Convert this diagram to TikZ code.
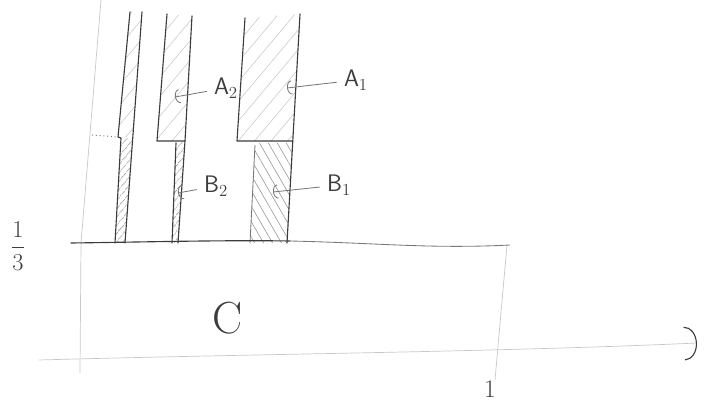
\documentclass[tikz,border=0pt]{standalone}
\usetikzlibrary{arrows.meta, patterns.meta}
\definecolor{sketchDark}{RGB}{60, 60, 60}
\definecolor{sketchMid}{RGB}{120, 120, 120}
\definecolor{sketchLight}{RGB}{200, 200, 200}
\tikzset{
  edgeline/.style={draw=sketchDark, line width=0.8pt, line cap=round, line join=round},
  axisline/.style={draw=sketchLight, line width=0.5pt, line cap=round},
  lighthatch/.style={pattern={Lines[angle=50, distance=9pt, line width=0.4pt]}, pattern color=sketchLight},
  densehatch/.style={pattern={Lines[angle=50, distance=4pt, line width=0.5pt]}, pattern color=sketchMid},
  backhatch/.style={pattern={Lines[angle=-60, distance=5.5pt, line width=0.4pt]}, pattern color=sketchMid!80},
  partlabel/.style={font=\sffamily\fontsize{17}{20}\selectfont, text=sketchDark, inner sep=3pt},
  pointer/.style={-{Arc Barb[length=3.5pt, width=10pt]}, draw=sketchMid, line width=0.6pt, shorten <=2pt}
}

\begin{document}
\begin{tikzpicture}[x=0.25mm, y=-0.25mm]
\useasboundingbox (0,0) rectangle (704,405);

%% AXES
\draw[axisline] (101,0) -- (81,243) -- (80,373);
\draw[axisline] (507,245) -- (495,380);
\draw[axisline, -{Arc Barb[length=9pt, width=24pt, sketchDark, line width=0.8pt]}] (39,360) .. controls (250,354) and (500,352) .. (697,343);

%% STRIP 3 (A3/B3)
\fill[lighthatch] (130,12) -- (142,12) -- (132.8,137) -- (118,137) -- cycle;
\fill[densehatch] (121,138) -- (132.6,138) -- (125,243) -- (115,243) -- cycle;
\draw[sketchMid, dotted, line width=0.7pt] (92,135) -- (118,137);
\draw[edgeline] (130,12) -- (118,137) -- (121,138) -- (115,243);
\draw[edgeline] (142,12) -- (125,243);

%% A2 / B2
\fill[lighthatch] (167,14) -- (192,16) -- (185,141) -- (157,141) -- cycle;
\fill[densehatch] (176,142) -- (185,142) -- (178,243) -- (172,243) -- cycle;
\draw[edgeline] (167,14) -- (157,141) -- (185,141);
\draw[edgeline] (192,16) -- (185,141) -- (178,243);
\draw[edgeline] (176,143) -- (172,243);

%% A1 / B1
\fill[lighthatch] (245,18) -- (300,14) -- (292.7,141) -- (237,141) -- cycle;
\fill[backhatch] (255,143) -- (292.5,143) -- (287,243) -- (250,243) -- cycle;
\draw[edgeline] (245,18) -- (237,141) -- (292.7,141);
\draw[edgeline] (300,14) -- (287,243);
\draw[sketchMid, line width=0.6pt] (255,145) -- (250,243);

%% TOP OF C
\draw[edgeline] (71,243) .. controls (150,242) and (220,240) .. (290,241);
\draw[sketchMid, line width=0.6pt] (290,241) .. controls (380,243) and (430,249) .. (510,245);

%% LABELS
\node[partlabel] (labelA2) at (226,88) {A$_2$};
\node[partlabel] (labelA1) at (356,80) {A$_1$};
\node[partlabel] (labelB2) at (216,186) {B$_2$};
\node[partlabel] (labelB1) at (339,185) {B$_1$};
\coordinate (tipA2) at (175,97);
\coordinate (tipA1) at (287,88);
\coordinate (tipB2) at (178,193);
\coordinate (tipB1) at (273,192);
\draw[pointer] (labelA2) -- (tipA2);
\draw[pointer] (labelA1) -- (tipA1);
\draw[pointer] (labelB2) -- (tipB2);
\draw[pointer] (labelB1) -- (tipB1);

\node[font=\fontsize{32}{36}\selectfont, text=sketchDark] (regionC) at (228,318) {C};
\node[font=\fontsize{17}{20}\selectfont, text=sketchDark] (third) at (18,246) {$\displaystyle\frac{1}{3}$};
\node[font=\fontsize{18}{20}\selectfont, text=sketchDark, inner sep=0pt] (one) at (490,389) {1};

\end{tikzpicture}
\end{document}
